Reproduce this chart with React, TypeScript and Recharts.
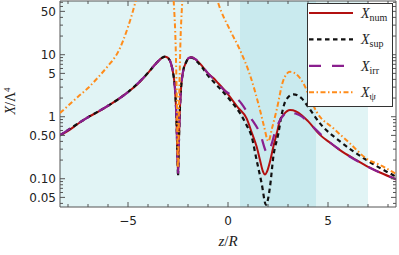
import { LineChart, Line, XAxis, YAxis, ReferenceArea } from "recharts";

// X_num (solid red)
const numX = [-8.4, -8, -7.5, -7, -6.5, -6, -5.5, -5, -4.5, -4, -3.6, -3.3, -3.15, -3, -2.85, -2.75, -2.65, -2.58, -2.53, -2.5, -2.47, -2.42, -2.35, -2.25, -2.1, -1.95, -1.82, -1.6, -1.3, -1, -0.73, -0.5, 0, 0.5, 0.93, 1.2, 1.43, 1.6, 1.75, 1.85, 1.95, 2.1, 2.27, 2.45, 2.6, 2.8, 3.1, 3.4, 3.7, 4, 4.6, 5.1, 5.6, 6.3, 6.93, 7.6, 8.4];
const numY = [0.5, 0.59, 0.77, 0.98, 1.2, 1.5, 1.9, 2.5, 3.4, 5.1, 7.2, 8.9, 9.3, 8.9, 7.2, 5.2, 2.8, 1.0, 0.25, 0.12, 0.25, 1.0, 2.8, 5.3, 7.5, 8.9, 9.1, 8.3, 6.6, 5.0, 4.2, 3.5, 2.3, 1.4, 0.94, 0.54, 0.33, 0.2, 0.13, 0.117, 0.13, 0.19, 0.33, 0.56, 0.88, 1.1, 1.28, 1.22, 1.05, 0.85, 0.51, 0.38, 0.29, 0.21, 0.16, 0.126, 0.098];

// X_sup (black dashed)
const supX = [-8.4, -7, -6, -5, -4, -3.6, -3.3, -3.15, -3, -2.85, -2.75, -2.65, -2.58, -2.53, -2.5, -2.47, -2.42, -2.35, -2.25, -2.1, -1.95, -1.82, -1.6, -1.3, -1, -0.73, 0.1, 0.6, 0.93, 1.18, 1.43, 1.68, 1.9, 2.1, 2.27, 2.52, 2.68, 2.9, 3.27, 3.68, 4, 4.6, 5.6, 6.93, 8.4];
const supY = [0.5, 0.98, 1.5, 2.5, 5.1, 7.2, 8.9, 9.3, 8.9, 7.2, 5.2, 2.8, 1.0, 0.25, 0.11, 0.25, 1.0, 2.8, 5.3, 7.5, 8.9, 9.0, 8.0, 6.3, 4.6, 3.7, 1.86, 1.14, 0.73, 0.48, 0.2, 0.085, 0.038, 0.074, 0.23, 0.54, 1.07, 1.86, 2.3, 1.98, 1.45, 0.78, 0.4, 0.2, 0.108];

// X_irr (purple long dash)
const irrX = [-8.4, -7, -6, -5, -4, -3.6, -3.3, -3.15, -3, -2.85, -2.75, -2.65, -2.58, -2.53, -2.5, -2.47, -2.42, -2.35, -2.25, -2.1, -1.95, -1.82, -1.6, -1.3, -1, -0.5, -0.23, 0.1, 0.52, 1.1, 1.6, 1.97, 2.2, 2.35, 2.6, 2.8, 3.1, 3.27, 3.7, 4, 4.85, 5.6, 6.93, 8.4];
const irrY = [0.5, 0.98, 1.5, 2.5, 5.1, 7.2, 8.9, 9.3, 8.9, 7.2, 5.2, 2.8, 1.0, 0.25, 0.12, 0.25, 1.0, 2.8, 5.3, 7.5, 8.9, 9.1, 8.3, 6.6, 5.0, 3.5, 2.75, 2.3, 1.86, 1.0, 0.54, 0.26, 0.38, 0.57, 0.88, 1.08, 1.22, 1.16, 1.0, 0.82, 0.45, 0.29, 0.16, 0.098];

// X_psi (orange dot-dash)
const psiX = [-8.4, -8, -7.5, -7, -6.5, -6, -5.5, -5, -4.65, -4.4, -4, -2.8, -2.7, -2.62, -2.56, -2.5, -2.44, -2.38, -2.3, -2.2, -1.5, -1, -0.6, -0.5, 0.1, 0.6, 1.1, 1.6, 1.8, 2.02, 2.2, 2.43, 2.77, 3.1, 3.4, 3.77, 4.1, 4.43, 5.27, 6.1, 6.93, 7.6, 8.4];
const psiY = [1.15, 1.5, 2.1, 2.9, 4.3, 6.6, 11, 28, 67, 150, 500, 150, 60, 15, 2, 0.15, 2, 15, 60, 150, 1000, 300, 90, 70, 25, 11.9, 4.7, 1.28, 0.7, 0.4, 0.65, 1.28, 3.9, 5.3, 4.9, 3.45, 2.0, 1.2, 0.65, 0.37, 0.21, 0.166, 0.12];

const xTicks = [-8, -7, -6, -5, -4, -3, -2, -1, 0, 1, 2, 3, 4, 5, 6, 7, 8];
const yTicks = [0.04, 0.05, 0.06, 0.07, 0.08, 0.09, 0.1, 0.2, 0.3, 0.4, 0.5, 0.6, 0.7, 0.8, 0.9, 1, 2, 3, 4, 5, 6, 7, 8, 9, 10, 20, 30, 40, 50, 60, 70];
const yLabels: Record<string, string> = { "0.05": "0.05", "0.1": "0.10", "0.5": "0.50", "1": "1", "5": "5", "10": "10", "50": "50" };

const X_DOMAIN = [-8.4, 8.4];
const Y_DOMAIN = [0.035, 73.5];

const PLOT_LEFT = 60;
const PLOT_RIGHT = 396;
const PLOT_TOP = 1;
const PLOT_BOTTOM = 207;

const FRAME = "#555";
const TEXT = "#222";
const RED = "#b21010";
const BLACK = "#111";
const PURPLE = "#8a1f8e";
const ORANGE = "#ff8c1a";

const zip = (xs: number[], ys: number[]) => xs.map((x, i) => ({ x, y: ys[i] }));

const series = [
  { name: "num", data: zip(numX, numY), color: RED, dash: undefined as string | undefined, width: 2 },
  { name: "sup", data: zip(supX, supY), color: BLACK, dash: "4.5 3.5", width: 2.2 },
  { name: "irr", data: zip(irrX, irrY), color: PURPLE, dash: "12 11", width: 2.2 },
  { name: "ψ", data: zip(psiX, psiY), color: ORANGE, dash: "5 2.5 1.5 2.5", width: 2 },
];

function XTick({ x, payload }: any) {
  const v = payload.value;
  const major = v % 5 === 0;
  const len = major ? 5 : 3;
  return (
    <g>
      <line x1={x} x2={x} y1={PLOT_BOTTOM} y2={PLOT_BOTTOM - len} stroke={FRAME} />
      <line x1={x} x2={x} y1={PLOT_TOP} y2={PLOT_TOP + len} stroke={FRAME} />
      {major && (
        <text x={x} y={PLOT_BOTTOM + 18} textAnchor="middle" fontFamily="DejaVu Sans" fontSize={12} fill={TEXT}>
          {v < 0 ? `−${-v}` : String(v)}
        </text>
      )}
    </g>
  );
}

function YTick({ y, payload }: any) {
  const label = yLabels[String(payload.value)];
  const len = label ? 5 : 3;
  return (
    <g>
      <line x1={PLOT_LEFT} x2={PLOT_LEFT + len} y1={y} y2={y} stroke={FRAME} />
      <line x1={PLOT_RIGHT} x2={PLOT_RIGHT - len} y1={y} y2={y} stroke={FRAME} />
      {label && (
        <text x={PLOT_LEFT - 4} y={y + 4.3} textAnchor="end" fontFamily="DejaVu Sans" fontSize={12} fill={TEXT}>
          {label}
        </text>
      )}
    </g>
  );
}

function YLabel() {
  return (
    <text transform="rotate(-90 15 101)" x={15} y={101} textAnchor="middle" fontFamily="Liberation Serif" fontSize={14} fill={TEXT}>
      <tspan fontStyle="italic">X</tspan>/Λ<tspan fontSize={9} dy={-5}>4</tspan>
    </text>
  );
}

function XLabel() {
  return (
    <text x={228} y={246} textAnchor="middle" fontFamily="Liberation Serif" fontSize={15} fill={TEXT}>
      <tspan fontStyle="italic">z</tspan>/<tspan fontStyle="italic">R</tspan>
    </text>
  );
}

function LegendBox() {
  return (
    <svg width={87} height={105} style={{ display: "block" }}>
      <rect x={0.5} y={0.5} width={85} height={103} fill="#fff" stroke="#333" />
      {series.map((s, i) => {
        const y = 10 + i * 26.4;
        return (
          <g key={s.name}>
            <line x1={2} x2={46} y1={y} y2={y} stroke={s.color} strokeWidth={s.width} strokeDasharray={s.dash} />
            <text x={54} y={y + 5} fontFamily="Liberation Serif" fontSize={14} fill={TEXT}>
              <tspan fontStyle="italic">X</tspan>
              <tspan fontSize={10} dy={3}>{s.name}</tspan>
            </text>
          </g>
        );
      })}
    </svg>
  );
}

export default function App() {
  return (
    <div style={{ position: "fixed", left: 0, top: 0, width: 399, height: 255, background: "#fff" }}>
      <LineChart width={399} height={255} margin={{ top: PLOT_TOP, right: 399 - PLOT_RIGHT, bottom: 0, left: 0 }}>
        <XAxis
          type="number"
          dataKey="x"
          domain={X_DOMAIN}
          ticks={xTicks}
          interval={0}
          allowDataOverflow
          height={255 - PLOT_BOTTOM}
          tickLine={false}
          axisLine={false}
          tick={<XTick />}
          label={<XLabel />}
        />
        <YAxis
          type="number"
          scale="log"
          domain={Y_DOMAIN}
          ticks={yTicks}
          interval={0}
          allowDataOverflow
          width={PLOT_LEFT}
          tickLine={false}
          axisLine={false}
          tick={<YTick />}
          label={<YLabel />}
        />
        <ReferenceArea x1={-8.4} x2={7} fill="#e1f4f5" fillOpacity={1} stroke="none" />
        <ReferenceArea x1={0.6} x2={4.4} fill="#c9eaee" fillOpacity={1} stroke="none" />
        <ReferenceArea x1={X_DOMAIN[0]} x2={X_DOMAIN[1]} y1={Y_DOMAIN[0]} y2={Y_DOMAIN[1]} fill="none" stroke={FRAME} strokeWidth={1} />
        {series.map((s) => (
          <Line
            key={s.name}
            data={s.data}
            dataKey="y"
            type="monotone"
            stroke={s.color}
            strokeWidth={s.width}
            strokeDasharray={s.dash}
            dot={false}
            isAnimationActive={false}
          />
        ))}
      </LineChart>
      <div style={{ position: "absolute", left: 307, top: 3 }}>
        <LegendBox />
      </div>
    </div>
  );
}
